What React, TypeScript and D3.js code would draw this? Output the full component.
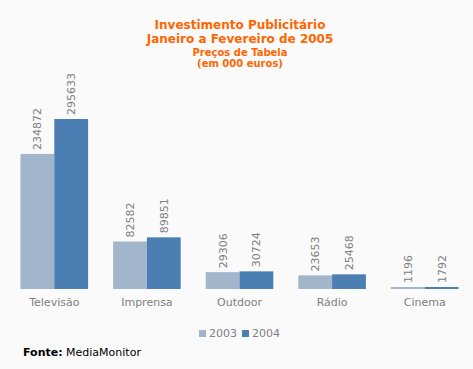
import React from "react";
import * as d3 from "d3";

const categories = ["Televisão", "Imprensa", "Outdoor", "Rádio", "Cinema"];
const series = ["2003", "2004"];
const values2003 = [234872, 82582, 29306, 23653, 1196];
const values2004 = [295633, 89851, 30724, 25468, 1792];
const colors = ["#A2B5CB", "#4B7FB4"];
const titleLines = ["Investimento Publicitário", "Janeiro a Fevereiro de 2005"];
const subtitleLines = ["Preços de Tabela", "(em 000 euros)"];

const W = 473, H = 369;
const baseY = 289;
const topY = 119;

export default function App() {
  const x0 = d3.scaleBand<string>().domain(categories).range([8, 471]).paddingInner(0.27).paddingOuter(0.135);
  const x1 = d3.scaleBand<string>().domain(series).range([0, x0.bandwidth()]);
  const y = d3.scaleLinear().domain([0, 295633]).range([baseY, topY]);
  const data = [values2003, values2004];
  const font = "'DejaVu Sans', Verdana, sans-serif";
  return (
    <svg width={W} height={H} style={{ position: "absolute", left: 0, top: 0, background: "#FAFAFA" }} fontFamily={font}>
      <rect width={W} height={H} fill="#FAFAFA" />
      {titleLines.map((t, i) => (
        <text key={t} x={240} y={29 + i * 14} textAnchor="middle" fill="#FF6600" fontWeight="bold" fontSize={12}>{t}</text>
      ))}
      {subtitleLines.map((t, i) => (
        <text key={t} x={240} y={56 + i * 11} textAnchor="middle" fill="#FF6600" fontWeight="bold" fontSize={10}>{t}</text>
      ))}
      {categories.map((c, ci) => (
        <g key={c} transform={`translate(${x0(c)},0)`}>
          {series.map((s, si) => {
            const v = data[si][ci];
            const bx = x1(s)!;
            const bw = x1.bandwidth();
            const yt = y(v);
            const h = Math.max(baseY - yt, 2);
            return (
              <g key={s}>
                <rect x={bx} y={baseY - h} width={bw} height={h} fill={colors[si]} />
                <text transform={`translate(${bx + bw / 2 + 4},${baseY - h - 4}) rotate(-90)`} fontSize={11} fill="#808080">{v}</text>
              </g>
            );
          })}
          <text x={x0.bandwidth() / 2} y={306} textAnchor="middle" fontSize={11} fill="#808080">{c}</text>
        </g>
      ))}
      {series.map((s, i) => (
        <g key={s} transform={`translate(${199 + i * 43},0)`}>
          <rect x={0} y={330} width={7} height={7} fill={colors[i]} />
          <text x={10} y={337} fontSize={11} fill="#808080">{s}</text>
        </g>
      ))}
      <text x={23} y={356} fontSize={11} fill="#000">
        <tspan fontWeight="bold">Fonte:</tspan> MediaMonitor
      </text>
    </svg>
  );
}
